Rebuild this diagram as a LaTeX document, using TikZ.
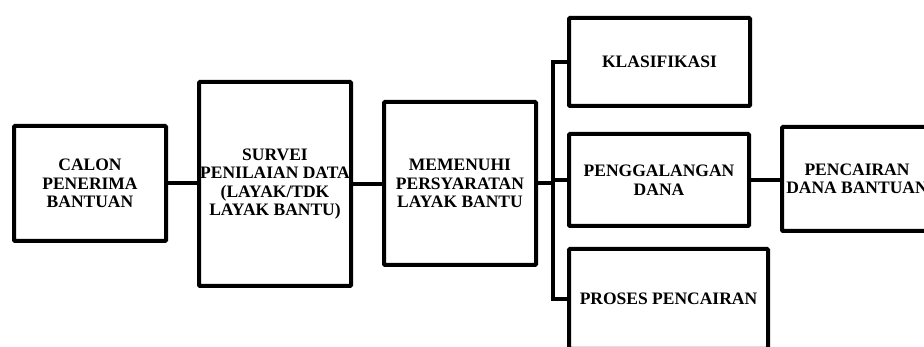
\documentclass[tikz,border=0pt]{standalone}
\usepackage{fontspec}
\setmainfont{Liberation Serif}
\begin{document}
\begin{tikzpicture}[x=1pt,y=-1pt,
  boxnode/.style={draw=black,line width=4pt,rounded corners=1pt,align=center,inner sep=0pt,
    font=\bfseries\fontsize{17.5}{18.5}\selectfont},
  conn/.style={draw=black,line width=4pt}]
\useasboundingbox (0,0) rectangle (924,347);
\clip (0,0) rectangle (924,347);
\node[boxnode,minimum width=152pt,minimum height=115pt] (calon) at (90,183.5) {CALON\\PENERIMA\\BANTUAN};
\node[boxnode,minimum width=152pt,minimum height=204pt] (survei) at (275,184) {SURVEI\\PENILAIAN DATA\\(LAYAK/TDK\\LAYAK BANTU)};
\node[boxnode,minimum width=152pt,minimum height=163pt] (syarat) at (460,183.5) {MEMENUHI\\PERSYARATAN\\LAYAK BANTU};
\node[boxnode,minimum width=181pt,minimum height=88pt] (klas) at (659.5,62) {KLASIFIKASI};
\node[boxnode,minimum width=180pt,minimum height=92pt] (galang) at (659,180) {PENGGALANGAN\\DANA};
\node[boxnode,minimum width=199pt,minimum height=100pt] (proses) at (668.5,299) {PROSES PENCAIRAN};
\node[boxnode,minimum width=150pt,minimum height=104pt] (cair) at (857,179) {PENCAIRAN\\DANA BANTUAN};
\coordinate (bus) at (553,0);
\draw[conn] (calon.east) -- (survei.west |- calon.east);
\draw[conn] (survei.east) -- (syarat.west |- survei.east);
\draw[conn] (syarat.east) -- (syarat.east -| bus);
\draw[conn] (klas.west) -- (klas.west -| bus) -- (proses.west -| bus) -- (proses.west);
\draw[conn] (galang.west -| bus) -- (galang.west);
\draw[conn] (galang.east) -- (cair.west |- galang.east);
\end{tikzpicture}
\end{document}
